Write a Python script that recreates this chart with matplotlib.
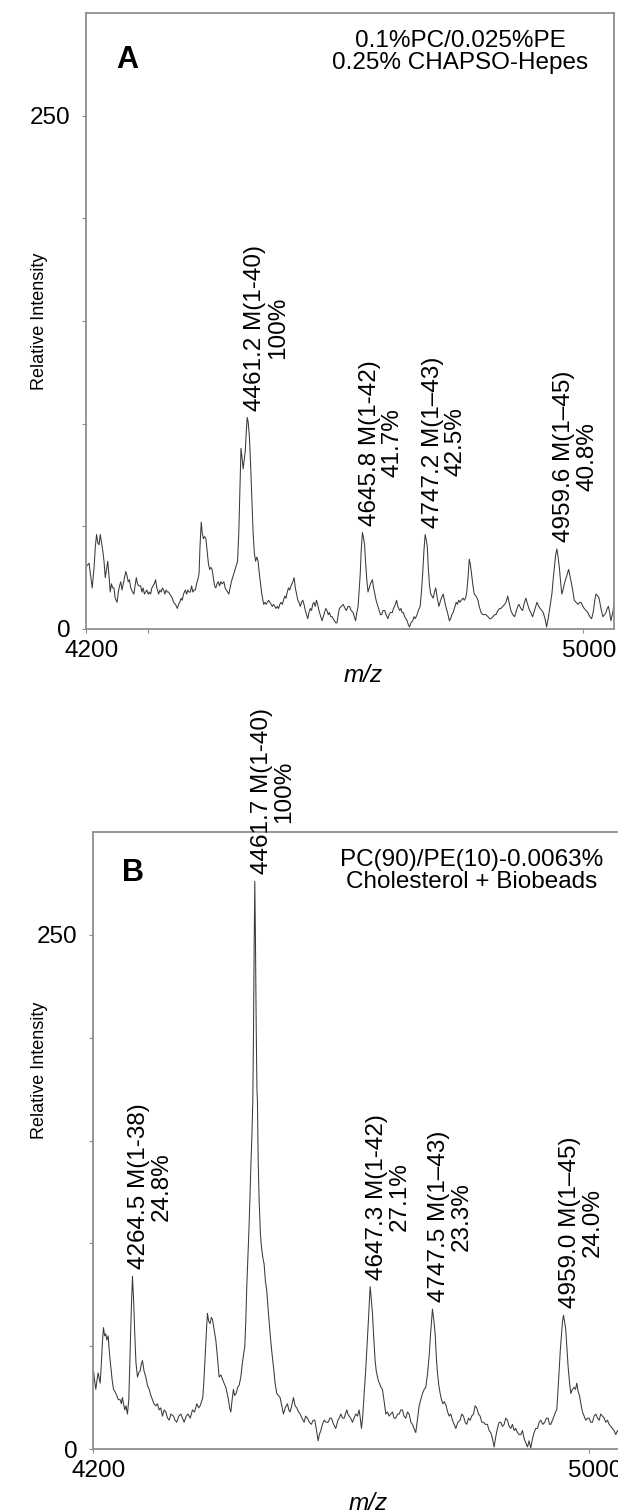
import matplotlib
matplotlib.use("Agg")
import matplotlib.pyplot as plt
import matplotlib.transforms as mtransforms

plt.rcParams['font.family'] = ['Liberation Sans', 'DejaVu Sans']

# ---------------- Panel A spectrum (m/z, relative intensity) ----------------
a_mz = [4200, 4202, 4205, 4207, 4210, 4213, 4215, 4217, 4219, 4221, 4223, 4225, 4227, 4229, 4231, 4233,
        4235, 4237, 4239, 4241, 4243, 4245, 4247, 4250, 4252, 4254, 4256, 4258, 4260, 4262, 4264, 4266,
        4268, 4270, 4272, 4275, 4277, 4279, 4281, 4283, 4285, 4288, 4290, 4292, 4294, 4296, 4298, 4300,
        4302, 4304, 4306, 4308, 4310, 4312, 4314, 4317, 4319, 4321, 4323, 4325, 4327, 4329, 4331, 4333,
        4335, 4337, 4339, 4341, 4344, 4347, 4349, 4351, 4353, 4355, 4357, 4360, 4362, 4364, 4366, 4368,
        4370, 4372, 4374, 4376, 4378, 4380, 4382, 4383.5, 4385.5, 4387, 4389, 4391, 4393, 4395, 4397, 4399,
        4401, 4403, 4405, 4407, 4409, 4411, 4413, 4415, 4417, 4419, 4422, 4424, 4426, 4428, 4430, 4432,
        4434, 4436, 4438, 4440, 4442, 4444, 4446, 4448, 4449.5, 4451, 4453, 4455, 4456.5, 4458, 4459.5, 4461,
        4463, 4465, 4467, 4469, 4471, 4473, 4475, 4477, 4479, 4481, 4483, 4486, 4488, 4490, 4492, 4494,
        4496, 4498, 4500, 4502, 4504, 4506, 4508, 4510, 4512, 4514, 4516, 4518, 4520, 4522, 4524, 4526,
        4528, 4530, 4533, 4535, 4537, 4539, 4541, 4543, 4545, 4547, 4549, 4551, 4553, 4555, 4557, 4559,
        4561, 4563, 4565, 4567, 4569, 4571, 4573, 4575, 4577, 4580, 4582, 4584, 4586, 4588, 4590, 4592,
        4594, 4596, 4598, 4600, 4602, 4604, 4606, 4608, 4611, 4614, 4617, 4619, 4622, 4624, 4627, 4630,
        4632, 4634, 4636, 4638, 4640, 4641.5, 4643, 4645, 4647, 4648.5, 4650, 4652, 4654, 4656, 4658, 4661,
        4663, 4665, 4667, 4670, 4672, 4674, 4676, 4678, 4681, 4683, 4686, 4688, 4690, 4693, 4695, 4698,
        4700, 4702, 4705, 4707, 4709, 4711, 4713, 4715, 4717, 4719, 4721, 4723, 4726, 4728, 4730, 4733,
        4735, 4738, 4740, 4742, 4744, 4746, 4748, 4749.5, 4751, 4753, 4755, 4757, 4759, 4761, 4763, 4765,
        4768, 4770, 4772, 4775, 4777, 4780, 4782, 4785, 4787, 4789, 4791, 4793, 4796, 4798, 4800, 4802,
        4804, 4807, 4809, 4811, 4813, 4815, 4817, 4819, 4821, 4823, 4825, 4828, 4831, 4833, 4836, 4839,
        4842, 4844, 4847, 4850, 4852, 4855, 4858, 4860, 4863, 4866, 4868, 4871, 4874, 4876, 4879, 4881,
        4884, 4887, 4890, 4892, 4895, 4897, 4900, 4903, 4905, 4908, 4910, 4913, 4916, 4919, 4921, 4924,
        4926, 4929, 4931, 4934, 4936, 4939, 4941.5, 4944, 4947, 4950, 4952, 4954, 4956, 4958, 4960, 4962,
        4964, 4966, 4968, 4970, 4972, 4975, 4977, 4979, 4981, 4984, 4986, 4989, 4992, 4995, 4997, 5000,
        5002, 5005, 5008, 5011, 5014, 5017, 5019, 5021, 5024, 5026, 5029, 5032, 5035, 5037, 5039, 5041,
        5043, 5045, 5048, 5050]
a_int = [30, 31, 32, 27, 20, 30, 40, 46, 42, 41, 46, 42, 38, 33, 25, 29,
         33, 26, 18, 22, 20, 20, 15, 13, 18, 21, 23, 19, 22, 25, 28, 26,
         23, 24, 20, 18, 17, 21, 25, 22, 21, 21, 18, 20, 17, 18, 19, 17,
         18, 17, 20, 21, 22, 24, 20, 17, 19, 18, 20, 19, 17, 19, 18, 18,
         17, 16, 15, 13, 12, 10, 12, 13, 15, 14, 17, 19, 17, 19, 18, 18,
         21, 18, 19, 19, 22, 24, 27, 40, 52, 47, 44, 45, 44, 38, 32, 29,
         30, 29, 25, 21, 20, 22, 23, 21, 23, 22, 23, 20, 19, 18, 17, 20,
         23, 25, 27, 29, 31, 33, 47, 70, 88, 84, 78, 83, 87, 96, 103, 101,
         94, 80, 63, 47, 37, 33, 35, 33, 27, 22, 17, 12, 13, 12, 13, 14,
         13, 12, 11, 12, 11, 10, 11, 10, 12, 13, 12, 14, 16, 15, 18, 20,
         19, 21, 23, 25, 20, 17, 14, 13, 11, 13, 14, 12, 9, 7, 5, 8,
         10, 9, 12, 13, 11, 14, 12, 9, 7, 4, 6, 8, 10, 9, 7, 8,
         6, 6, 5, 4, 3, 3, 7, 10, 11, 12, 10, 9, 11, 11, 9, 8,
         6, 4, 8, 11, 20, 27, 38, 47, 44, 41, 33, 24, 18, 20, 22, 24,
         20, 17, 14, 11, 9, 7, 7, 9, 9, 7, 5, 7, 8, 8, 10, 12,
         14, 11, 9, 10, 8, 8, 6, 5, 4, 2, 1, 3, 4, 6, 5, 7,
         9, 11, 18, 27, 38, 46, 43, 40, 30, 21, 17, 16, 15, 18, 20, 16,
         11, 13, 15, 17, 14, 10, 8, 4, 5, 7, 8, 10, 13, 12, 14, 13,
         14, 15, 14, 15, 18, 25, 34, 31, 26, 21, 17, 16, 14, 11, 8, 7,
         7, 7, 6, 5, 5, 6, 7, 7, 9, 10, 10, 11, 12, 13, 16, 13,
         9, 7, 6, 8, 11, 12, 10, 9, 12, 15, 13, 10, 8, 6, 8, 11,
         13, 11, 10, 9, 8, 5, 1, 5, 11, 17, 24, 30, 36, 39, 35, 30,
         23, 17, 19, 22, 24, 27, 29, 26, 23, 18, 14, 13, 12, 13, 13, 11,
         10, 9, 8, 6, 5, 9, 14, 17, 16, 15, 10, 6, 7, 8, 10, 11,
         8, 4, 8, 12]

# ---------------- Panel B spectrum ----------------
b_mz = [4200, 4201.6, 4203.5, 4205.3, 4207, 4209.1, 4211, 4212.3, 4214, 4216, 4217.7, 4219.5, 4221.4, 4223,
        4225.2, 4227.5, 4229.5, 4231.5, 4233.8, 4236, 4239.2, 4241.5, 4244.5, 4246.5, 4248.3, 4250, 4252, 4254,
        4256.3, 4258.5, 4260.6, 4262.5, 4264.4, 4266.3, 4268.1, 4270, 4272.5, 4274.5, 4276.8, 4278.5, 4280.5, 4283,
        4285.9, 4288.5, 4291.3, 4294, 4296.6, 4299, 4302, 4304.5, 4307.4, 4310, 4312.7, 4315.5, 4318.1, 4321,
        4323.5, 4326.5, 4330.5, 4333, 4335.8, 4339, 4342.3, 4345, 4347.6, 4351, 4354.1, 4357.5, 4361.1, 4364.5,
        4368.1, 4371, 4373.4, 4375.5, 4377.7, 4379.5, 4381.5, 4383.5, 4385.2, 4387.3, 4389.5, 4391.5, 4393.3, 4396,
        4398.7, 4401.5, 4404, 4407, 4409.4, 4412, 4414.8, 4417, 4419.1, 4421, 4422.9, 4425, 4427.1, 4429,
        4431.4, 4434, 4436.3, 4439, 4441.6, 4443.5, 4445.4, 4447, 4448.6, 4450.5, 4451.9, 4453.5, 4455.1, 4456.8,
        4458.3, 4459.5, 4460.5, 4461.5, 4462.5, 4463.8, 4465.0, 4465.8, 4467, 4468.5, 4470.5, 4472.3, 4474.5, 4476.5,
        4478.5, 4480.8, 4483.5, 4486.2, 4489, 4491.6, 4494.2, 4496.9, 4499.5, 4502.3, 4505, 4507.7, 4510.5, 4514.2,
        4516.3, 4518.4, 4521, 4523.8, 4526.5, 4529.2, 4532, 4534.6, 4537.5, 4541, 4543.5, 4546.4, 4549.5, 4552.8,
        4555.5, 4558.2, 4561, 4563.6, 4565.5, 4567.9, 4570.5, 4573.2, 4576.5, 4579.7, 4582.5, 4585.0, 4588.5, 4592.0,
        4595.5, 4599.0, 4600.1, 4603, 4605.5, 4607.5, 4609.8, 4611.5, 4613.5, 4616, 4618.9, 4621.5, 4624.3, 4627,
        4629.6, 4631.5, 4633.4, 4635.5, 4637.7, 4640, 4642, 4644.5, 4647.4, 4649.2, 4651.1, 4653.2, 4655.4, 4657.2,
        4659.2, 4660.8, 4662.4, 4664.8, 4667.2, 4670, 4672.6, 4675.3, 4678.0, 4680.5, 4683.3, 4686, 4688.7, 4691.5,
        4694.1, 4696.8, 4699.5, 4702, 4704.8, 4707.5, 4710.2, 4713, 4715.6, 4718, 4720.9, 4723.5, 4726.3, 4729,
        4731.7, 4734.5, 4737.1, 4740, 4742.4, 4745, 4747.8, 4749.9, 4752.1, 4754, 4755.9, 4758, 4760.2, 4762.4,
        4764.5, 4767, 4769.8, 4772.3, 4774.7, 4777.3, 4780.0, 4782.7, 4785.4, 4788.8, 4792.4, 4795, 4797.8, 4800.5,
        4803.1, 4805.8, 4808.5, 4811, 4813.9, 4816.5, 4819.2, 4822, 4824.6, 4827.3, 4830.0, 4833, 4836.4, 4839,
        4841.8, 4844.5, 4847.2, 4849.8, 4852.5, 4855.2, 4857.9, 4860.5, 4863.3, 4866, 4868.7, 4871.3, 4874.0, 4876.7,
        4879.4, 4882, 4884.8, 4887.5, 4890.1, 4892.8, 4895.5, 4898.2, 4900.9, 4903.5, 4906.2, 4909, 4911.6, 4914.3,
        4917.0, 4919.7, 4922.4, 4925.5, 4928.8, 4931.5, 4934.2, 4936.3, 4938.5, 4941.2, 4943.8, 4946, 4948.1, 4950,
        4951.9, 4953.8, 4955.7, 4957.3, 4958.9, 4960.7, 4962.6, 4964.5, 4966.4, 4968.5, 4970.7, 4973.4, 4976.1, 4978.3,
        4980.4, 4982.5, 4984.7, 4987, 4989.5, 4992.2, 4994.9, 4997.5, 5000.2, 5002.9, 5005.6, 5008.3, 5011.0, 5013.7,
        5016.4, 5019.0, 5021.7, 5024.4, 5027.1, 5029.8, 5032.5, 5035.2, 5037.8, 5040.5, 5043.2, 5046, 5049]
b_int = [36, 38, 33, 29, 33, 37, 34, 32, 40, 52, 59, 55, 56, 53,
         55, 46, 40, 34, 29, 28, 26, 24, 24, 22, 25, 22, 19, 21,
         17, 24, 48, 68, 84, 72, 56, 42, 35, 37, 38, 41, 43, 38,
         35, 31, 29, 26, 24, 22, 21, 22, 19, 20, 16, 19, 18, 15,
         14, 17, 16, 14, 13, 16, 17, 15, 13, 16, 17, 15, 19, 18,
         22, 20, 21, 23, 25, 33, 45, 57, 66, 62, 61, 64, 63, 58,
         53, 44, 35, 36, 34, 32, 30, 27, 24, 20, 18, 24, 29, 26,
         27, 30, 31, 35, 42, 46, 50, 62, 79, 94, 105, 120, 137, 152,
         169, 205, 245, 276, 250, 205, 175, 169, 140, 121, 105, 98, 93, 90,
         82, 77, 66, 56, 47, 40, 32, 27, 26, 25, 21, 17, 20, 22,
         19, 18, 21, 25, 21, 20, 18, 17, 15, 13, 16, 15, 13, 12,
         14, 14, 9, 4, 7, 9, 12, 14, 13, 13, 15, 15, 12, 10,
         14, 16, 17, 15, 15, 17, 19, 17, 16, 15, 13, 15, 17, 16,
         19, 15, 10, 16, 27, 37, 48, 62, 79, 73, 66, 54, 43, 38,
         35, 33, 32, 30, 29, 23, 17, 18, 16, 17, 18, 15, 15, 17,
         17, 19, 19, 16, 15, 18, 17, 13, 12, 10, 8, 14, 21, 24,
         27, 29, 30, 37, 45, 57, 68, 63, 56, 45, 37, 31, 27, 24,
         22, 23, 21, 18, 16, 17, 14, 12, 10, 13, 14, 17, 16, 13,
         12, 15, 14, 16, 17, 21, 20, 17, 16, 13, 13, 12, 12, 9,
         8, 5, 1, 6, 10, 13, 13, 11, 12, 15, 14, 11, 10, 12,
         9, 10, 8, 7, 7, 9, 5, 3, 1, 4, 0.5, 5, 8, 10,
         10, 13, 14, 12, 13, 15, 15, 12, 12, 14, 16, 18, 19, 28,
         38, 48, 56, 62, 65, 62, 58, 49, 40, 33, 27, 29, 30, 29,
         32, 28, 26, 22, 18, 16, 14, 15, 15, 13, 13, 16, 17, 15,
         14, 17, 16, 15, 13, 14, 12, 11, 10, 9, 7, 9, 8]

# ---------------- Peak annotations ----------------
a_peak_mz = [4461.2, 4645.8, 4747.2, 4959.6]
a_peak_int = [103, 47, 46, 39]
a_peak_txt = ["4461.2 M(1-40)\n100%", "4645.8 M(1-42)\n41.7%",
              "4747.2 M(1\u201343)\n42.5%", "4959.6 M(1\u201345)\n40.8%"]

b_peak_mz = [4264.5, 4461.7, 4647.3, 4747.5, 4959.0]
b_peak_int = [84, 276, 79, 68, 65]
b_peak_txt = ["4264.5 M(1-38)\n24.8%", "4461.7 M(1-40)\n100%", "4647.3 M(1-42)\n27.1%",
              "4747.5 M(1\u201343)\n23.3%", "4959.0 M(1\u201345)\n24.0%"]

a_title = "0.1%PC/0.025%PE\n0.25% CHAPSO-Hepes"
b_title = "PC(90)/PE(10)-0.0063%\nCholesterol + Biobeads"

x_range = (4200, 5050)
y_range = (0, 300)
y_ticks = [0, 50, 100, 150, 200, 250]
y_ticklabels = ["0", "", "", "", "", "250"]

W, H = 618, 1512
fig = plt.figure(figsize=(W / 100, H / 100), dpi=100)


def px_rect(left, top, right, bottom):
    return [left / W, 1 - bottom / H, (right - left) / W, (bottom - top) / H]


axA = fig.add_axes(px_rect(86, 13, 614, 629))
axB = fig.add_axes(px_rect(92.5, 832, 620, 1449))

FS = 17.5
spine_col = '#8f8f8f'
line_col = '#3a3a3a'

panels = [
    (axA, a_mz, a_int, a_peak_mz, a_peak_int, a_peak_txt, [4200, 4300, 5000], ["4200", "", "5000"]),
    (axB, b_mz, b_int, b_peak_mz, b_peak_int, b_peak_txt, [4200, 5000], ["4200", "5000"]),
]

for ax, mz, inten, pmz, pint, ptxt, xt, xtl in panels:
    ax.plot(mz, inten, color=line_col, lw=0.75)
    ax.set_xlim(*x_range)
    ax.set_ylim(*y_range)
    for s in ax.spines.values():
        s.set_color(spine_col)
        s.set_linewidth(1.3)
    ax.set_yticks(y_ticks)
    ax.set_yticklabels(y_ticklabels)
    ax.set_xticks(xt)
    ax.set_xticklabels(xtl)
    ax.tick_params(axis='both', direction='out', length=3, width=0.8, color=spine_col,
                   labelsize=FS, labelcolor='black')
    ax.tick_params(axis='y', pad=8)
    ax.tick_params(axis='x', pad=5)
    offset = mtransforms.ScaledTranslation(6 / 100, 0, fig.dpi_scale_trans)
    for lab in ax.get_xticklabels():
        lab.set_transform(lab.get_transform() + offset)
    for x, y, t in zip(pmz, pint, ptxt):
        ax.annotate(t, xy=(x, y), xytext=(13, 5), textcoords='offset points',
                    rotation=90, ha='center', va='bottom', multialignment='center',
                    fontsize=FS, linespacing=1.05, annotation_clip=False)

# axis titles / panel texts
fig.text(40 / W, 1 - 321 / H, "Relative Intensity", rotation=90, ha='center', va='center', fontsize=13)
fig.text(40 / W, 1 - 1070 / H, "Relative Intensity", rotation=90, ha='center', va='center', fontsize=13)
fig.text(363 / W, 1 - 675 / H, "m/z", style='italic', ha='center', va='center', fontsize=FS)
fig.text(368 / W, 1 - 1503 / H, "m/z", style='italic', ha='center', va='center', fontsize=FS)

fig.text(127 / W, 1 - 60 / H, "A", fontweight='bold', ha='center', va='center', fontsize=22)
fig.text(133 / W, 1 - 873 / H, "B", fontweight='bold', ha='center', va='center', fontsize=22)

fig.text(460 / W, 1 - 52 / H, a_title, ha='center', va='center', fontsize=FS, linespacing=1.05)
fig.text(472 / W, 1 - 871 / H, b_title, ha='center', va='center', fontsize=FS, linespacing=1.05)

fig.savefig("out.png", dpi=100)
